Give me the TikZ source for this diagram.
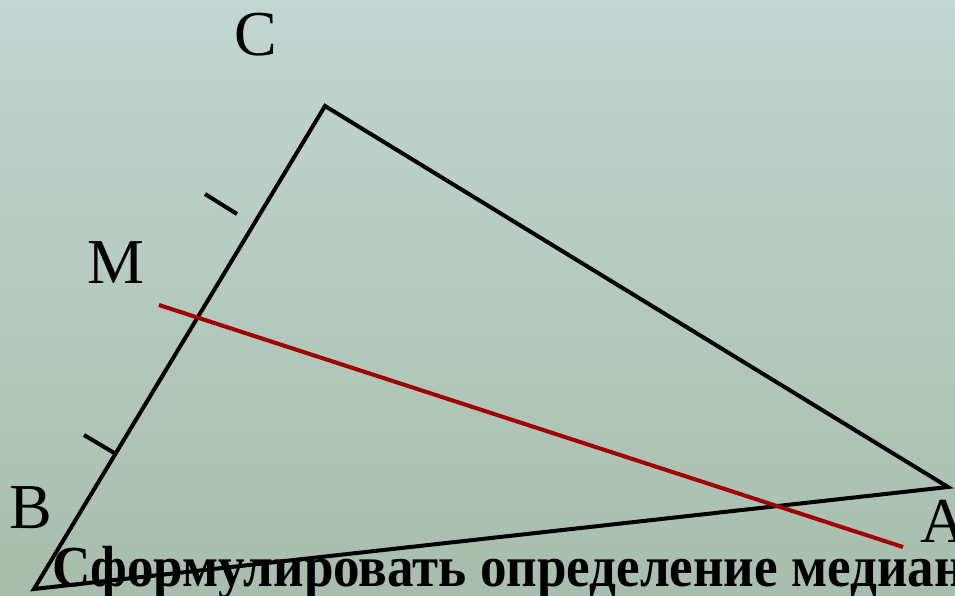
\documentclass[tikz,border=0pt]{standalone}
\usepackage{fontspec}
\usepackage{graphicx}
\setmainfont{Liberation Serif}
\begin{document}
\begin{tikzpicture}[x=1pt,y=-1pt,
  edge/.style={line width=4pt,black,line join=miter},
  tick/.style={line width=4pt,black},
  median/.style={line width=4pt,color=redline},
  lab/.style={anchor=base west,inner sep=0pt,font=\fontsize{64}{64}\selectfont},
  title/.style={anchor=base west,inner sep=0pt,font=\fontsize{58}{58}\selectfont\bfseries}]
\definecolor{bgtop}{RGB}{194,214,210}
\definecolor{bgbot}{RGB}{168,190,172}
\definecolor{redline}{RGB}{160,0,0}
\useasboundingbox (0,0) rectangle (955,595);
\clip (0,0) rectangle (955,595);
\shade[top color=bgtop,bottom color=bgbot] (0,0) rectangle (955,595);
\node[title] (tt) at (52,586) {\scalebox{0.915}[1]{Сформулировать определение медиан}};
\coordinate (C) at (325,106);
\coordinate (A) at (948,487);
\coordinate (B) at (34,589);
\draw[edge] (B) -- (C) -- (A) -- cycle;
\coordinate (t1a) at (205,194);
\coordinate (t1b) at (237,214);
\coordinate (t2a) at (84,435);
\coordinate (t2b) at (116,454);
\draw[tick] (t1a) -- (t1b);
\draw[tick] (t2a) -- (t2b);
\coordinate (M1) at (159,305);
\coordinate (M2) at (903,547);
\draw[median] (M1) -- (M2);
\node[lab] (lC) at (234,55) {C};
\node[lab] (lM) at (87,283) {M};
\node[lab] (lB) at (9,528) {B};
\node[lab] (lA) at (920,542) {A};
\end{tikzpicture}
\end{document}
